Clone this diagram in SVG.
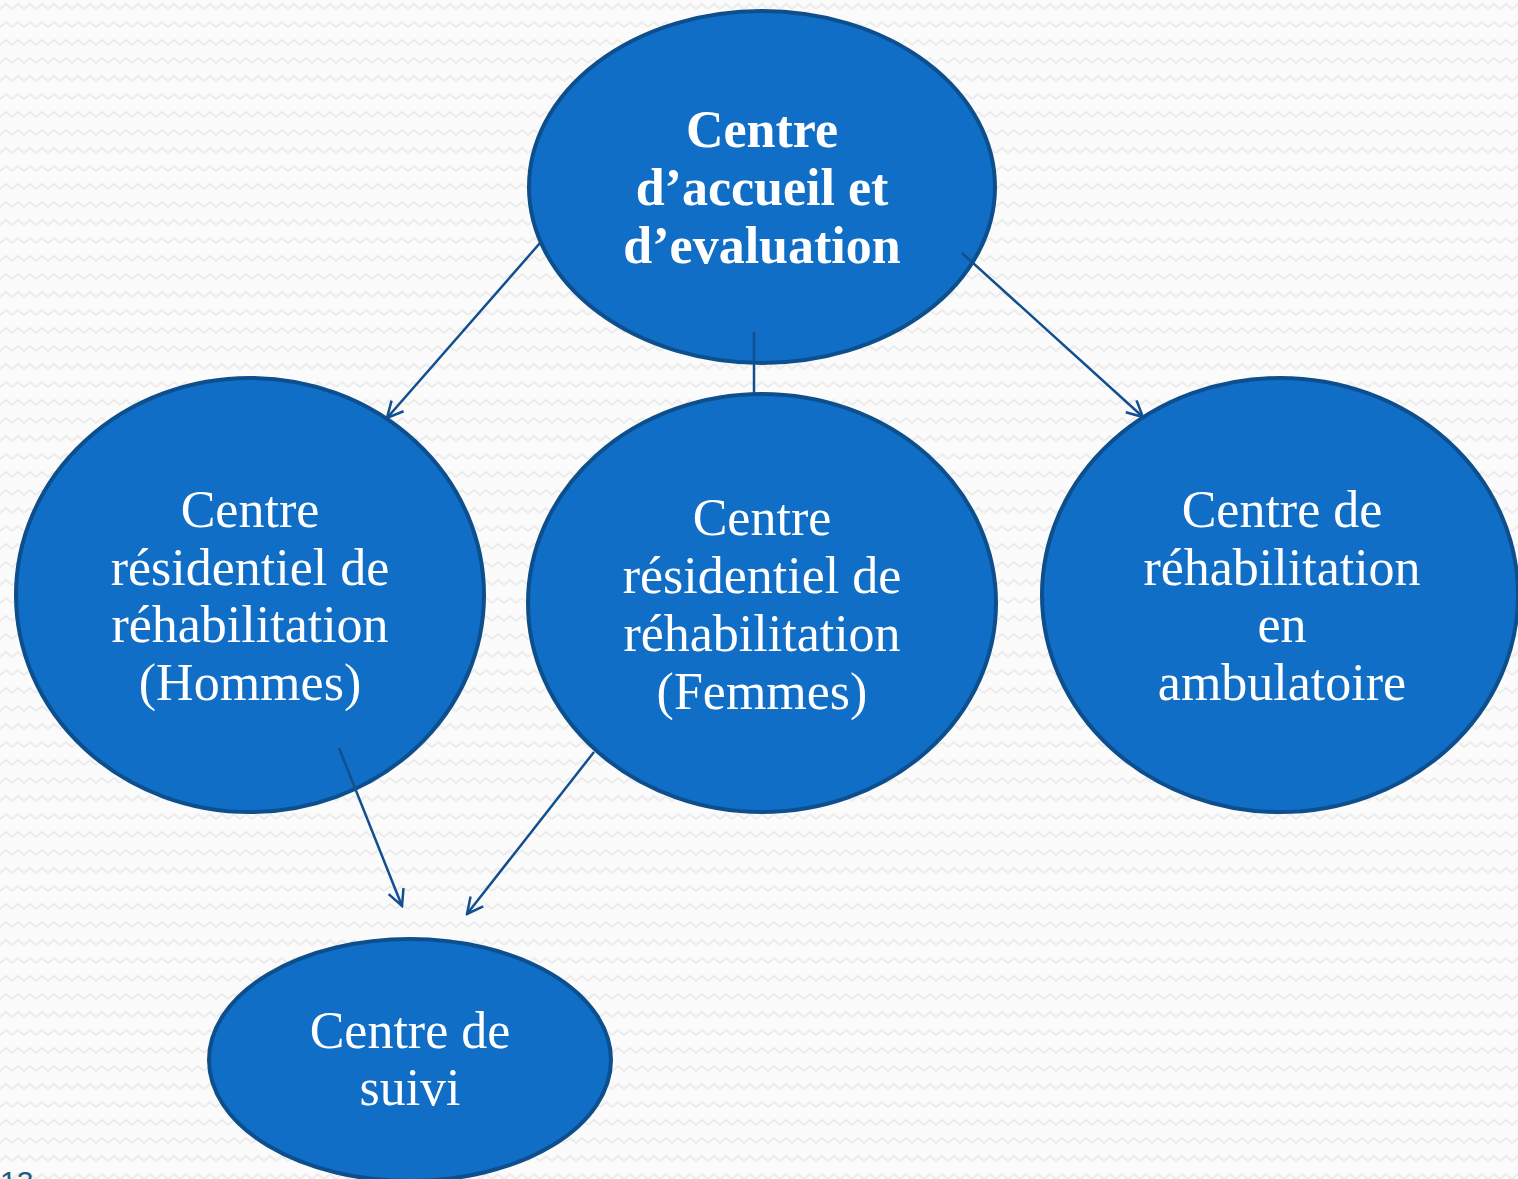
<svg xmlns="http://www.w3.org/2000/svg" width="1518" height="1179" viewBox="0 0 1518 1179">
<style>
.node{fill:#116ec6;stroke:#0d4f8d;stroke-width:4}
.t{fill:#ffffff;font-family:"Liberation Serif","DejaVu Serif",serif;font-size:52px;text-anchor:middle}
.b{font-weight:bold}
.c{fill:none;stroke:#124f8e;stroke-width:2.5}
</style>
<defs>
<pattern id="bg" width="12" height="18" patternUnits="userSpaceOnUse">
<rect width="12" height="18" fill="#fbfbfb"/>
<path d="M0 9 L6 4 L12 9" fill="none" stroke="#ececec" stroke-width="2"/>
</pattern>
<marker id="arr" viewBox="0 0 20 20" refX="18" refY="10" markerWidth="20" markerHeight="20" markerUnits="userSpaceOnUse" orient="auto">
<path d="M2 2 L18 10 L2 18" fill="none" stroke="#124f8e" stroke-width="2.5"/>
</marker>
</defs>
<rect width="1518" height="1179" fill="url(#bg)"/>
<text x="0" y="1192" font-family="Liberation Sans,sans-serif" font-size="30" fill="#1d5f7c">13</text>
<g id="accueil">
<ellipse class="node" cx="762" cy="187" rx="233" ry="176"/>
<text class="t b" x="762" y="147">Centre</text>
<text class="t b" x="762" y="205">d’accueil et</text>
<text class="t b" x="762" y="263">d’evaluation</text>
</g>
<g id="hommes">
<ellipse class="node" cx="250" cy="595" rx="234" ry="217"/>
<text class="t" x="250" y="527">Centre</text>
<text class="t" x="250" y="585">résidentiel de</text>
<text class="t" x="250" y="642">réhabilitation</text>
<text class="t" x="250" y="700">(Hommes)</text>
</g>
<g id="femmes">
<ellipse class="node" cx="762" cy="603" rx="234" ry="209"/>
<text class="t" x="762" y="535">Centre</text>
<text class="t" x="762" y="593">résidentiel de</text>
<text class="t" x="762" y="651">réhabilitation</text>
<text class="t" x="762" y="709">(Femmes)</text>
</g>
<g id="ambulatoire">
<ellipse class="node" cx="1280" cy="595" rx="238" ry="217"/>
<text class="t" x="1282" y="527">Centre de</text>
<text class="t" x="1282" y="585">réhabilitation</text>
<text class="t" x="1282" y="642">en</text>
<text class="t" x="1282" y="700">ambulatoire</text>
</g>
<g id="suivi">
<ellipse class="node" cx="410" cy="1060" rx="201" ry="121"/>
<text class="t" x="410" y="1048">Centre de</text>
<text class="t" x="410" y="1105">suivi</text>
</g>
<g id="connectors">
<line class="c" x1="540" y1="243" x2="387" y2="418" marker-end="url(#arr)"/>
<line class="c" x1="962" y1="253" x2="1143" y2="417" marker-end="url(#arr)"/>
<line class="c" x1="754" y1="332" x2="754" y2="394"/>
<line class="c" x1="339" y1="748" x2="402" y2="906" marker-end="url(#arr)"/>
<line class="c" x1="594" y1="752" x2="467" y2="914" marker-end="url(#arr)"/>
</g>
</svg>
